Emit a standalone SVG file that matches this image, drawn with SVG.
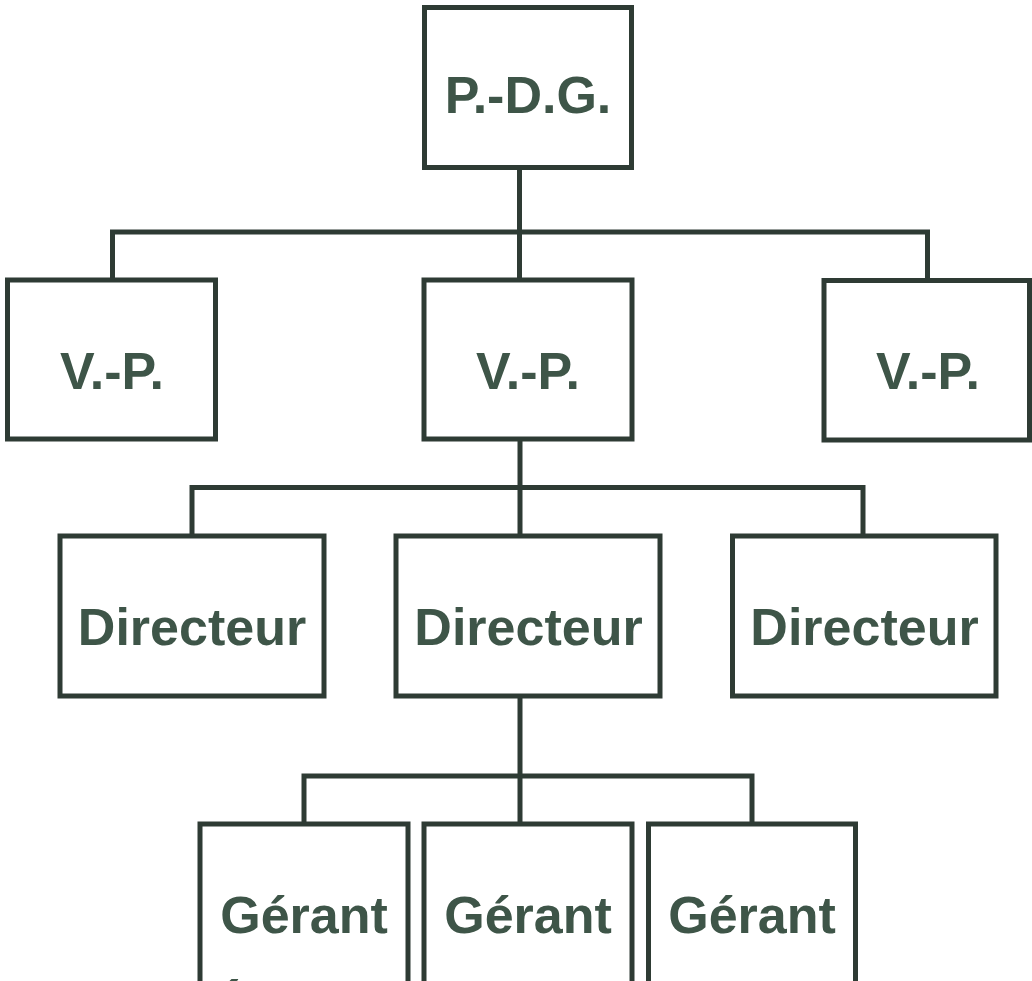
<svg xmlns="http://www.w3.org/2000/svg" width="1032" height="981" viewBox="0 0 1032 981">
<style>
.box{fill:#ffffff;stroke:#2e3b34;stroke-width:5}
.lbl{font-family:"Liberation Sans",Arial,sans-serif;font-weight:bold;font-size:52px;fill:#3e5548;text-anchor:middle}
.con{fill:none;stroke:#2e3b34;stroke-width:5}
</style>
<rect width="1032" height="981" fill="#ffffff"/>
<g id="connectors">
<path class="con" d="M519.5,167.5 V280 M112.5,280 V232 H927.5 V280"/>
<path class="con" d="M520,439 V536 M192,536 V487.5 H863 V536"/>
<path class="con" d="M520,696 V824 M304,824 V776 H752 V824"/>
</g>
<g id="pdg"><rect class="box" x="424.5" y="7.5" width="207" height="160"/><text class="lbl" x="528" y="113">P.-D.G.</text></g>
<g id="vp1"><rect class="box" x="7.5" y="280" width="208" height="159"/><text class="lbl" x="112" y="388.5">V.-P.</text></g>
<g id="vp2"><rect class="box" x="424" y="280" width="208" height="159"/><text class="lbl" x="528" y="389">V.-P.</text></g>
<g id="vp3"><rect class="box" x="824" y="280.5" width="205.5" height="159.5"/><text class="lbl" x="928" y="388.5">V.-P.</text></g>
<g id="dir1"><rect class="box" x="60" y="536" width="264" height="160"/><text class="lbl" x="192" y="645">Directeur</text></g>
<g id="dir2"><rect class="box" x="396" y="536" width="264" height="160"/><text class="lbl" x="528.5" y="645">Directeur</text></g>
<g id="dir3"><rect class="box" x="732.5" y="536" width="263.5" height="160"/><text class="lbl" x="864.5" y="645">Directeur</text></g>
<g id="ger1"><rect class="box" x="200" y="824" width="208" height="200"/><text class="lbl" x="304" y="933">Gérant</text><text class="lbl" x="212" y="1025" style="text-anchor:start">É</text></g>
<g id="ger2"><rect class="box" x="424" y="824" width="208" height="200"/><text class="lbl" x="528" y="933">Gérant</text></g>
<g id="ger3"><rect class="box" x="648.5" y="824" width="207" height="200"/><text class="lbl" x="752" y="933">Gérant</text></g>
</svg>
